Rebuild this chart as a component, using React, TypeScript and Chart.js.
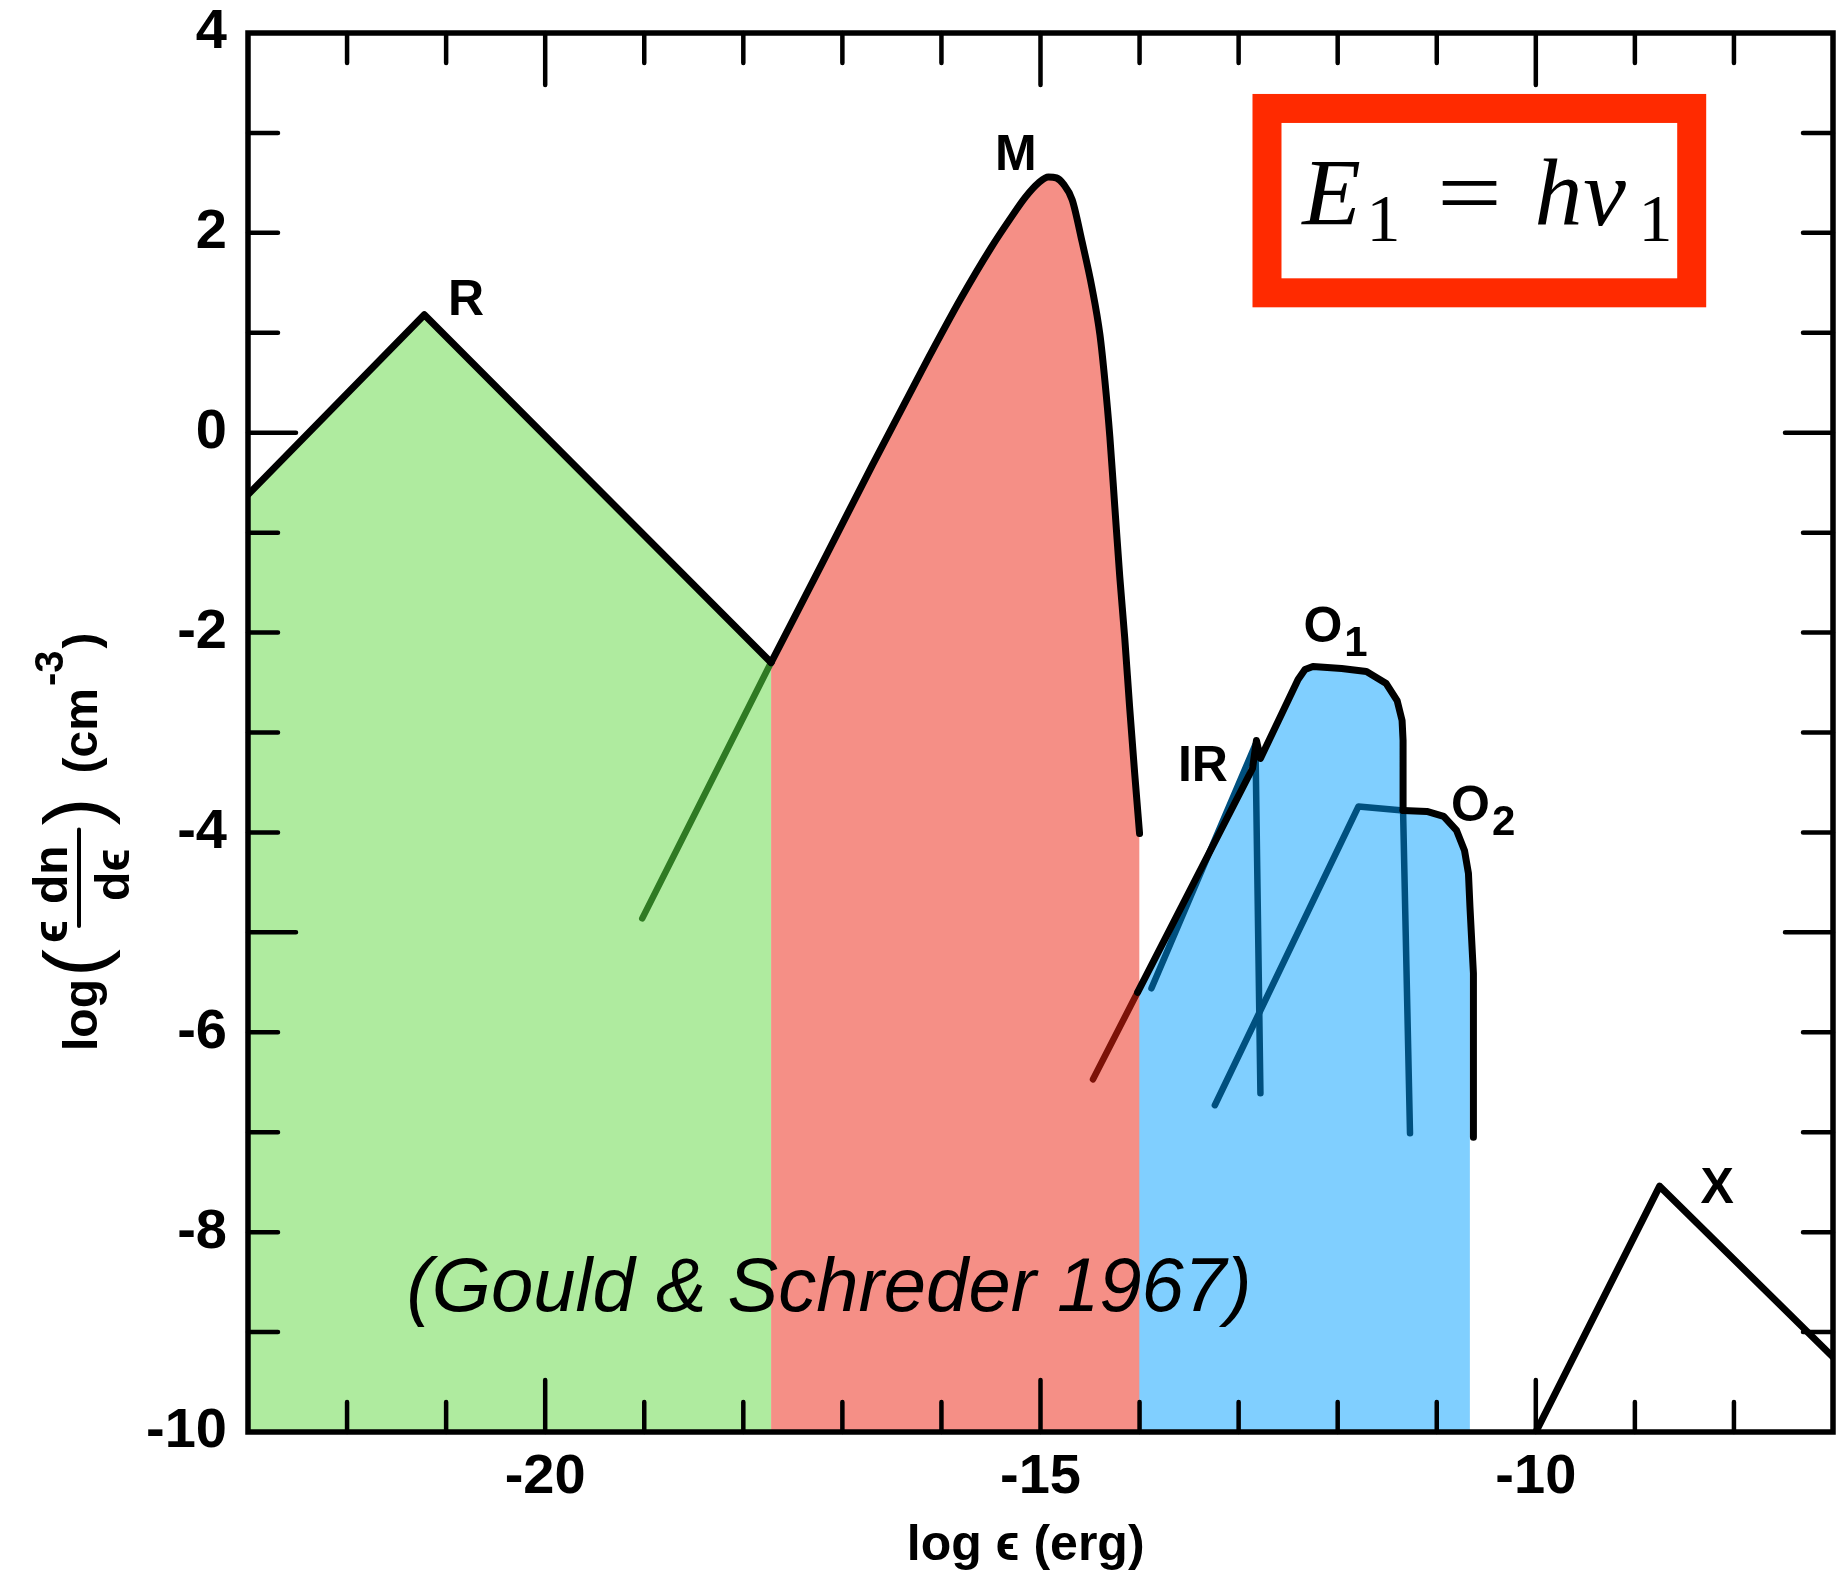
import React, { useEffect, useRef } from 'react';
import { Chart, registerables } from 'chart.js';

Chart.register(...registerables);

// ---------- axes ----------
const X_MIN = -23;
const X_MAX = -7;
const Y_MIN = -10;
const Y_MAX = 4;
const xTickValues = [-20, -15, -10];
const yTickStep = 2;

// ---------- R (radio) ----------
const rX = [-23.0, -21.22, -17.72];
const rY = [-0.62, 1.18, -2.3];

// rising edge of M continued under the R region (tinted green)
const mTailX = [-19.02, -17.72];
const mTailY = [-4.86, -2.3];

// ---------- M (microwave) ----------
const mX = [-17.72, -17.2, -16.7, -16.2, -15.8, -15.5, -15.3, -15.15, -15.02, -14.92, -14.84, -14.77, -14.68, -14.58, -14.48, -14.4, -14.35, -14.3, -14.25, -14.2, -14.15, -14.1, -14.05, -14.0];
const mY = [-2.3, -1.3, -0.33, 0.62, 1.35, 1.85, 2.15, 2.36, 2.5, 2.56, 2.55, 2.49, 2.33, 1.91, 1.45, 0.98, 0.52, -0.04, -0.74, -1.44, -2.05, -2.75, -3.4, -4.01];

// ---------- O1 ----------
const o1TailX = [-14.47, -14.02];
const o1TailY = [-6.47, -5.6];
const o1X = [-14.02, -12.86, -12.82, -12.78, -12.4, -12.33, -12.25, -11.96, -11.71, -11.51, -11.4, -11.35, -11.34, -11.34];
const o1Y = [-5.6, -3.36, -3.08, -3.26, -2.47, -2.37, -2.34, -2.36, -2.39, -2.51, -2.68, -2.88, -3.08, -3.78];
const o1DropX = [-11.34, -11.27];
const o1DropY = [-3.78, -7.01];

// ---------- IR ----------
const irX = [-13.88, -12.83, -12.78];
const irY = [-5.56, -3.12, -6.61];

// ---------- O2 ----------
const o2RiseX = [-13.24, -11.79, -11.34];
const o2RiseY = [-6.73, -3.74, -3.78];
const o2X = [-11.34, -11.1, -10.93, -10.8, -10.72, -10.68, -10.665, -10.63, -10.63];
const o2Y = [-3.78, -3.79, -3.84, -3.98, -4.18, -4.41, -4.74, -5.41, -7.05];

// blue envelope (O1 + O2)
const blueX = [-14.02, -12.4, -12.33, -12.25, -11.96, -11.71, -11.51, -11.4, -11.35, -11.34, -11.34, -11.1, -10.93, -10.8, -10.72, -10.68, -10.665, -10.665];
const blueY = [-5.6, -2.47, -2.37, -2.34, -2.36, -2.39, -2.51, -2.68, -2.88, -3.08, -3.78, -3.79, -3.84, -3.98, -4.18, -4.41, -4.74, -7.05];

// ---------- X (x-ray) ----------
const xrX = [-10.0, -8.75, -7.0];
const xrY = [-10.0, -7.54, -9.25];

// ---------- labels ----------
const labelText = ['R', 'M', 'IR', 'O', 'O', 'X'];
const labelSub = ['', '', '', '1', '2', ''];
const labelX = [-20.8, -15.25, -13.36, -12.15, -10.66, -8.17];
const labelY = [1.35, 2.8, -3.31, -1.91, -3.71, -7.53];

const creditText = '(Gould & Schreder 1967)';
const creditX = -17.135;
const creditY = -8.79;

const xTitleText = 'log \u03f5 (erg)';
const xTitleX = -15.15;

// formula box corners (data units)
const boxX = [-12.86, -8.28];
const boxY = [1.255, 3.39];

const SANS = "'Liberation Sans', Arial, Helvetica, sans-serif";
const SERIF = "'Liberation Serif', 'Times New Roman', serif";

const GREEN = '#afeb9f';
const RED = '#f58f86';
const BLUE = '#80cfff';
const DARK_BLUE = '#00507f';
const DARK_GREEN = '#2f7a23';
const DARK_RED = '#7c1208';

const pts = (xs: number[], ys: number[]) => xs.map((x, i) => ({ x, y: ys[i] }));

function fillSet(xs: number[], ys: number[], color: string, order: number, smooth = false) {
  return {
    data: pts(xs, ys),
    fill: 'start',
    backgroundColor: color,
    borderColor: 'rgba(0,0,0,0)',
    borderWidth: 0,
    pointRadius: 0,
    tension: 0,
    cubicInterpolationMode: smooth ? 'monotone' : 'default',
    order,
  };
}

function lineSet(xs: number[], ys: number[], color: string, order: number, smooth = false, width = 7) {
  return {
    data: pts(xs, ys),
    fill: false,
    borderColor: color,
    borderWidth: width,
    borderJoinStyle: 'round',
    borderCapStyle: 'round',
    pointRadius: 0,
    tension: 0,
    cubicInterpolationMode: smooth ? 'monotone' : 'default',
    order,
  };
}

function drawYTitle(ctx: CanvasRenderingContext2D, x0: number, y0: number) {
  ctx.save();
  ctx.translate(x0, y0);
  ctx.rotate(-Math.PI / 2);
  ctx.fillStyle = '#000';
  ctx.strokeStyle = '#000';
  ctx.textAlign = 'left';
  ctx.textBaseline = 'alphabetic';
  const main = `bold 48px ${SANS}`;
  const big = `84px ${SANS}`;
  const sup = `bold 40px ${SANS}`;
  let u = 0;
  ctx.font = main;
  ctx.fillText('log', u, 0);
  u += ctx.measureText('log').width + 2;
  ctx.font = big;
  ctx.fillText('(', u, 6);
  u += ctx.measureText('(').width + 6;
  ctx.font = main;
  ctx.fillText('\u03f5', u, -30);
  u += ctx.measureText('\u03f5').width;
  const barStart = u - 6;
  u += 16;
  const dnStart = u;
  const dnW = ctx.measureText('dn').width;
  ctx.fillText('dn', u, -30);
  u += dnW;
  const barEnd = u + 16;
  const deW = ctx.measureText('d\u03f5').width;
  ctx.fillText('d\u03f5', dnStart + (dnW - deW) / 2, 32);
  ctx.lineWidth = 4;
  ctx.beginPath();
  ctx.moveTo(barStart, -18);
  ctx.lineTo(barEnd, -18);
  ctx.stroke();
  u = barEnd + 4;
  ctx.font = big;
  ctx.fillText(')', u, 6);
  u += ctx.measureText(')').width + 24;
  ctx.font = main;
  ctx.fillText('(cm', u, 0);
  u += ctx.measureText('(cm').width + 2;
  ctx.font = sup;
  ctx.fillText('-3', u, -34);
  u += ctx.measureText('-3').width + 2;
  ctx.font = main;
  ctx.fillText(')', u, 0);
  ctx.restore();
}

const decorPlugin = {
  id: 'decor',
  afterDatasetsDraw(chart: any) {
    const ctx: CanvasRenderingContext2D = chart.ctx;
    const xs = chart.scales.x;
    const ys = chart.scales.y;
    const { left, right, top, bottom } = chart.chartArea;
    ctx.save();

    // frame
    ctx.strokeStyle = '#000';
    ctx.lineWidth = 5.5;
    ctx.strokeRect(left, top, right - left, bottom - top);

    // inward ticks on all four sides
    ctx.lineWidth = 4.5;
    ctx.lineCap = 'round';
    for (let v = Math.ceil(xs.min) + 1; v < xs.max; v++) {
      const px = xs.getPixelForValue(v);
      const L = v % 5 === 0 ? 52 : 30;
      ctx.beginPath();
      ctx.moveTo(px, bottom);
      ctx.lineTo(px, bottom - L);
      ctx.moveTo(px, top);
      ctx.lineTo(px, top + L);
      ctx.stroke();
    }
    for (let v = Math.ceil(ys.min) + 1; v < ys.max; v++) {
      const py = ys.getPixelForValue(v);
      const L = v % 5 === 0 ? 48 : 30;
      ctx.beginPath();
      ctx.moveTo(left, py);
      ctx.lineTo(left + L, py);
      ctx.moveTo(right, py);
      ctx.lineTo(right - L, py);
      ctx.stroke();
    }

    // curve labels
    ctx.fillStyle = '#000';
    ctx.textAlign = 'center';
    ctx.textBaseline = 'alphabetic';
    for (let i = 0; i < labelText.length; i++) {
      const px = xs.getPixelForValue(labelX[i]);
      const py = ys.getPixelForValue(labelY[i]);
      ctx.font = `bold 50px ${SANS}`;
      const m = ctx.measureText(labelText[i]);
      const asc = m.actualBoundingBoxAscent;
      ctx.fillText(labelText[i], px, py + asc / 2);
      if (labelSub[i]) {
        ctx.font = `bold 42px ${SANS}`;
        ctx.textAlign = 'left';
        ctx.fillText(labelSub[i], px + m.width / 2 + 2, py + asc / 2 + 14);
        ctx.textAlign = 'center';
      }
    }

    // credit text
    ctx.font = `italic 76px ${SANS}`;
    ctx.textAlign = 'center';
    ctx.fillText(creditText, xs.getPixelForValue(creditX), ys.getPixelForValue(creditY));

    // x axis title
    ctx.font = `bold 50px ${SANS}`;
    ctx.fillText(xTitleText, xs.getPixelForValue(xTitleX), bottom + 128);

    // y axis title
    drawYTitle(ctx, left - 151, bottom - 381);

    // formula box
    const bx0 = xs.getPixelForValue(boxX[0]);
    const bx1 = xs.getPixelForValue(boxX[1]);
    const by0 = ys.getPixelForValue(boxY[1]);
    const by1 = ys.getPixelForValue(boxY[0]);
    const bw = 29;
    ctx.fillStyle = '#ff2a00';
    ctx.fillRect(bx0, by0, bx1 - bx0, by1 - by0);
    ctx.fillStyle = '#ffffff';
    ctx.fillRect(bx0 + bw, by0 + bw, bx1 - bx0 - 2 * bw, by1 - by0 - 2 * bw);

    ctx.fillStyle = '#000';
    ctx.textAlign = 'center';
    const base = by0 + 131;
    const subBase = by0 + 147;
    ctx.font = `italic 96px ${SERIF}`;
    ctx.fillText('E', bx0 + 79, base);
    ctx.fillText('h', bx0 + 306, base);
    ctx.fillText('\u03bd', bx0 + 352, base);
    ctx.font = `68px ${SERIF}`;
    ctx.fillText('1', bx0 + 131, subBase);
    ctx.fillText('1', bx0 + 403, subBase);
    ctx.save();
    ctx.translate(bx0 + 217, base);
    ctx.scale(1.2, 1);
    ctx.font = `96px ${SERIF}`;
    ctx.fillText('=', 0, 0);
    ctx.restore();

    ctx.restore();
  },
};

export default function App() {
  const canvasRef = useRef<HTMLCanvasElement | null>(null);

  useEffect(() => {
    const canvas = canvasRef.current;
    if (!canvas) return;
    const chart = new Chart(canvas, {
      type: 'line',
      data: {
        datasets: [
          // black outlines on top
          lineSet(rX, rY, '#000', 0),
          lineSet(mX, mY, '#000', 0, true),
          lineSet(o1X, o1Y, '#000', 0),
          lineSet(o2X, o2Y, '#000', 0),
          lineSet(xrX, xrY, '#000', 0),
          // tinted lines
          lineSet(mTailX, mTailY, DARK_GREEN, 1, false, 6.5),
          lineSet(o1TailX, o1TailY, DARK_RED, 1, false, 6.5),
          lineSet(o1DropX, o1DropY, DARK_BLUE, 1, false, 6.5),
          lineSet(irX, irY, DARK_BLUE, 1, false, 6.5),
          lineSet(o2RiseX, o2RiseY, DARK_BLUE, 1, false, 6.5),
          // fills below
          fillSet(rX, rY, GREEN, 10),
          fillSet(mX, mY, RED, 10, true),
          fillSet(blueX, blueY, BLUE, 10),
        ] as any,
      },
      options: {
        animation: false,
        responsive: false,
        devicePixelRatio: 1,
        events: [],
        layout: { padding: { top: 33, right: 6, left: 0, bottom: 0 } },
        plugins: {
          legend: { display: false },
          tooltip: { enabled: false },
          title: { display: false },
        },
        scales: {
          x: {
            type: 'linear',
            min: X_MIN,
            max: X_MAX,
            grid: { display: false },
            border: { display: false },
            ticks: {
              color: '#000',
              padding: 4,
              font: { family: SANS, size: 56, weight: 'bold' },
            },
            afterBuildTicks: (s: any) => {
              s.ticks = xTickValues.map((v) => ({ value: v }));
            },
            afterFit: (s: any) => {
              s.height = 150;
              s.paddingLeft = 0;
              s.paddingRight = 0;
            },
          },
          y: {
            type: 'linear',
            min: Y_MIN,
            max: Y_MAX,
            grid: { display: false },
            border: { display: false },
            ticks: {
              stepSize: yTickStep,
              color: '#000',
              padding: 13,
              font: { family: SANS, size: 56, weight: 'bold' },
            },
            afterFit: (s: any) => {
              s.width = 248;
              s.paddingTop = 0;
              s.paddingBottom = 0;
            },
          },
        },
      } as any,
      plugins: [decorPlugin],
    });
    return () => chart.destroy();
  }, []);

  return (
    <div
      style={{
        position: 'fixed',
        left: 0,
        top: 0,
        width: 1839,
        height: 1582,
        background: '#fff',
      }}
    >
      <canvas ref={canvasRef} width={1839} height={1582} style={{ width: 1839, height: 1582, display: 'block' }} />
    </div>
  );
}
